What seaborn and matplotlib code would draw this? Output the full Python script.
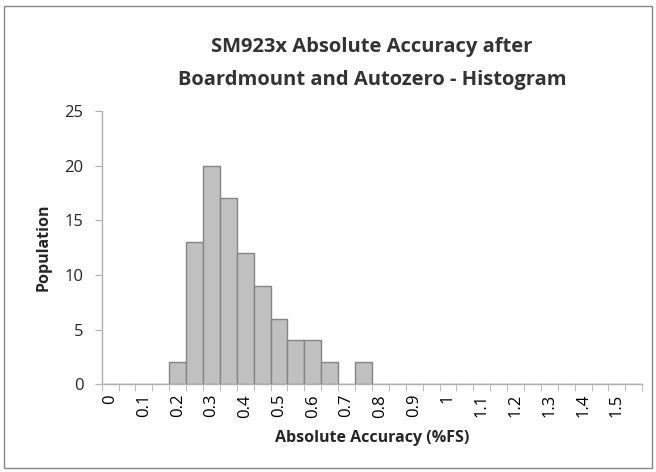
import matplotlib
matplotlib.use("Agg")
import matplotlib.pyplot as plt
import seaborn as sns
import pandas as pd
from matplotlib.patches import Rectangle
from matplotlib.ticker import FixedLocator

# Data
bins = ["0", "0.05", "0.1", "0.15", "0.2", "0.25", "0.3", "0.35", "0.4", "0.45",
        "0.5", "0.55", "0.6", "0.65", "0.7", "0.75", "0.8", "0.85", "0.9", "0.95",
        "1", "1.05", "1.1", "1.15", "1.2", "1.25", "1.3", "1.35", "1.4", "1.45",
        "1.5", "1.55"]
population = [0, 0, 0, 0, 2, 13, 20, 17, 12, 9,
              6, 4, 4, 2, 0, 2, 0, 0, 0, 0,
              0, 0, 0, 0, 0, 0, 0, 0, 0, 0,
              0, 0]
tick_labels = ["0", "", "0.1", "", "0.2", "", "0.3", "", "0.4", "", "0.5", "",
               "0.6", "", "0.7", "", "0.8", "", "0.9", "", "1", "", "1.1", "",
               "1.2", "", "1.3", "", "1.4", "", "1.5", ""]
title = "SM923x Absolute Accuracy after\nBoardmount and Autozero - Histogram"

sns.set_style("white")
plt.rcParams['font.family'] = ['Open Sans', 'DejaVu Sans']

df = pd.DataFrame({"bin": bins, "population": population})

fig = plt.figure(figsize=(6.56, 4.72), dpi=100)
ax = fig.add_axes([0.155, 0.186, 0.824, 0.579])

sns.barplot(data=df, x="bin", y="population", order=bins, width=1.0,
            color="#C0C0C0", edgecolor="#858585", linewidth=1.0,
            saturation=1, ax=ax)

ax.set_xlim(-0.5, len(bins) - 0.5)
ax.set_ylim(0, 25)
ax.set_yticks([0, 5, 10, 15, 20, 25])

ax.set_xticks(range(len(bins)))
ax.set_xticklabels(tick_labels, rotation=90, fontsize=12, color="#000000")
ax.xaxis.set_minor_locator(FixedLocator([i - 0.5 for i in range(len(bins) + 1)]))
ax.tick_params(axis="x", which="major", length=0, pad=7)
ax.tick_params(axis="x", which="minor", length=5, direction="out", color="#B0B0B0", bottom=True)
ax.tick_params(axis="y", length=5, direction="out", color="#B0B0B0", left=True, labelsize=12, pad=8)

for s in ["top", "right"]:
    ax.spines[s].set_visible(False)
for s in ["left", "bottom"]:
    ax.spines[s].set_color("#B0B0B0")
    ax.spines[s].set_linewidth(1.0)

ax.set_xlabel("Absolute Accuracy (%FS)", fontsize=11.5, fontweight="bold", labelpad=9)
ax.set_ylabel("Population", fontsize=11.5, fontweight="bold", labelpad=9)
ax.set_title(title, fontsize=14.5, fontweight="bold", color="#333333", pad=19, linespacing=1.85)

fig.patches.append(Rectangle((4 / 656, 4 / 472), 648 / 656, 462 / 472,
                             transform=fig.transFigure, fill=False,
                             edgecolor="#888888", linewidth=1.0))

fig.savefig("out.png", dpi=100)
